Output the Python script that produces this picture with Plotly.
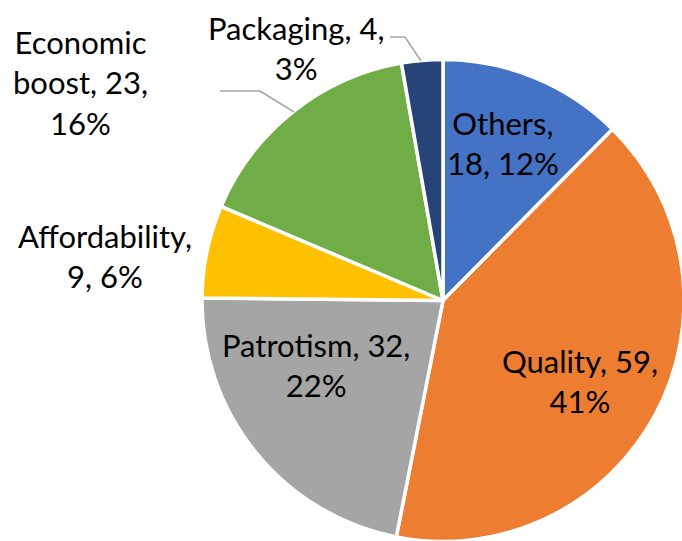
import plotly.graph_objects as go

# figure is a little larger than the 682x541 window, so the pie can run off
# the right and bottom edges the way the original does
W, H = 692, 552

categories = ["Others", "Quality", "Patrotism", "Affordability", "Economic boost", "Packaging"]
counts = [18, 59, 32, 9, 23, 4]
colors = ["#4472C4", "#ED7D31", "#A5A5A5", "#FFC000", "#70AD47", "#264478"]

# label text layout: (centre x px, centre y px, template)
label_layout = {
    "Others": (503, 143, "{c},<br>{v}, {p}%"),
    "Quality": (580, 381, "{c}, {v},<br>{p}%"),
    "Patrotism": (316, 365, "{c}, {v},<br>{p}%"),
    "Affordability": (105, 256, "{c},<br>{v}, {p}%"),
    "Economic boost": (80, 82, "Economic<br>boost, {v},<br>{p}%"),
    "Packaging": (296, 48, "{c}, {v},<br>{p}%"),
}

# leader lines for the outside labels (px points)
leaders = {
    "Economic boost": [(220, 91), (260, 91), (294, 112)],
    "Packaging": [(390, 37), (405, 37), (421, 61)],
}


def px(x, y):
    return x / W, 1 - y / H


total = sum(counts)

# pie: centre (443, 300), radius ~240 (plus half the white outline)
cx, cy, r = 443, 300.5, 241
fig = go.Figure(go.Pie(
    labels=categories,
    values=counts,
    sort=False,
    direction="clockwise",
    rotation=0,
    marker=dict(colors=colors, line=dict(color="white", width=3.5)),
    textinfo="none",
    hoverinfo="label+value+percent",
    domain=dict(x=[(cx - r) / W, (cx + r) / W],
                y=[1 - (cy + r) / H, 1 - (cy - r) / H]),
    showlegend=False,
))

for cat, val in zip(categories, counts):
    x, y, tmpl = label_layout[cat]
    pct = round(val / total * 100)
    ax, ay = px(x, y)
    fig.add_annotation(
        x=ax, y=ay, xref="paper", yref="paper",
        text=tmpl.format(c=cat, v=val, p=pct),
        showarrow=False, xanchor="center", yanchor="middle",
        font=dict(family="Lato", size=31, color="black"),
    )

for cat, pts in leaders.items():
    for (x0, y0), (x1, y1) in zip(pts[:-1], pts[1:]):
        a0, b0 = px(x0, y0)
        a1, b1 = px(x1, y1)
        fig.add_shape(type="line", xref="paper", yref="paper",
                      x0=a0, y0=b0, x1=a1, y1=b1,
                      line=dict(color="#A6A6A6", width=1.5))

fig.update_layout(
    width=W, height=H,
    margin=dict(l=0, r=0, t=0, b=0),
    paper_bgcolor="white",
    plot_bgcolor="white",
)

# drop the default body margin so the figure starts at the window corner
fig.write_html(
    "out.html",
    config={"displayModeBar": False},
    post_script="document.body.style.margin='0';document.body.style.overflow='hidden';",
)
